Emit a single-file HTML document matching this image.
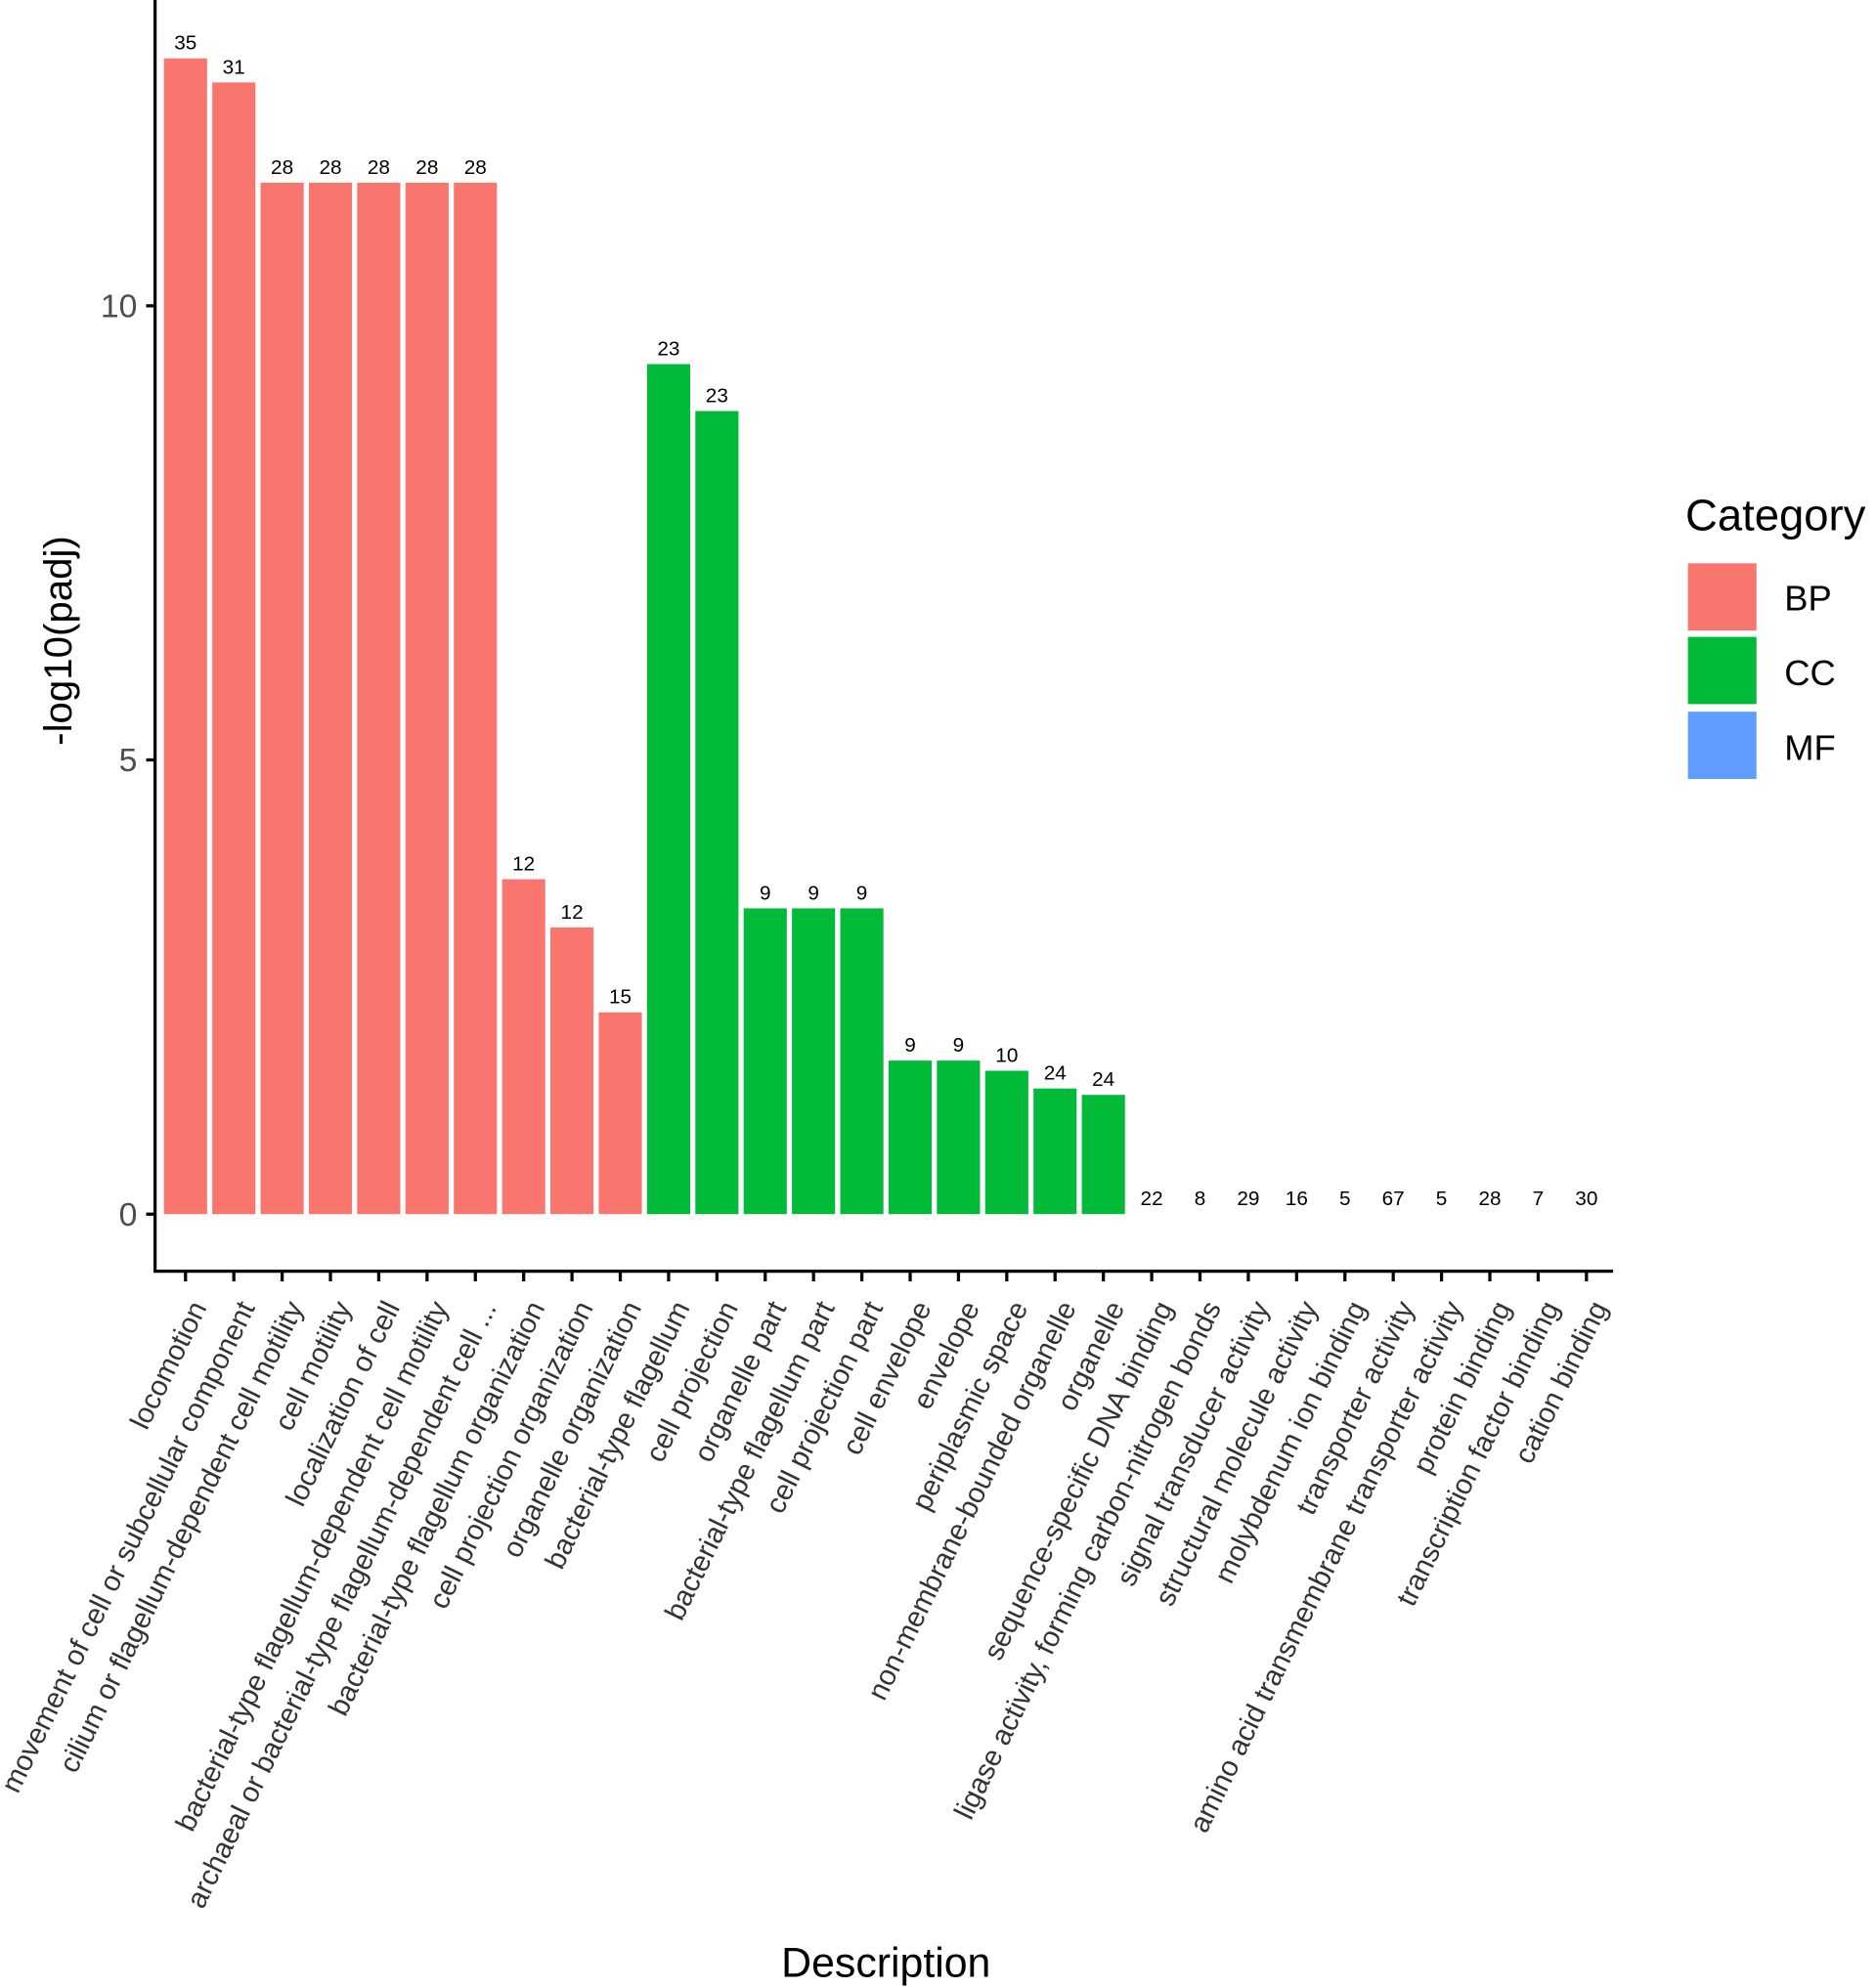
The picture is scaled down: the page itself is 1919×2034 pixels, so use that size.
<!DOCTYPE html>
<html><head><meta charset="utf-8"><style>html,body{margin:0;padding:0;background:#fff}svg{display:block}</style></head>
<body>
<svg width="1919" height="2034" viewBox="0 0 1478 1567" xmlns="http://www.w3.org/2000/svg" font-family="Liberation Sans, sans-serif">
<rect width="1478" height="1567" fill="#fff"/>
<g fill="#F8766D">
<rect x="129" y="46" width="34" height="911"/>
<rect x="167.07" y="65" width="34" height="892"/>
<rect x="205.14" y="144" width="34" height="813"/>
<rect x="243.21" y="144" width="34" height="813"/>
<rect x="281.28" y="144" width="34" height="813"/>
<rect x="319.35" y="144" width="34" height="813"/>
<rect x="357.42" y="144" width="34" height="813"/>
<rect x="395.49" y="693" width="34" height="264"/>
<rect x="433.56" y="731" width="34" height="226"/>
<rect x="471.63" y="798" width="34" height="159"/>
</g>
<g fill="#00BA38">
<rect x="509.7" y="287" width="34" height="670"/>
<rect x="547.77" y="324" width="34" height="633"/>
<rect x="585.84" y="716" width="34" height="241"/>
<rect x="623.91" y="716" width="34" height="241"/>
<rect x="661.98" y="716" width="34" height="241"/>
<rect x="700.05" y="836" width="34" height="121"/>
<rect x="738.12" y="836" width="34" height="121"/>
<rect x="776.19" y="844" width="34" height="113"/>
<rect x="814.26" y="858" width="34" height="99"/>
<rect x="852.33" y="863" width="34" height="94"/>
</g>
<g font-size="16" text-anchor="middle" fill="#000">
<text x="146" y="39">35</text><text x="184.07" y="58">31</text><text x="222.14" y="137">28</text><text x="260.21" y="137">28</text><text x="298.28" y="137">28</text><text x="336.35" y="137">28</text><text x="374.42" y="137">28</text><text x="412.49" y="686">12</text><text x="450.56" y="724">12</text><text x="488.63" y="791">15</text><text x="526.7" y="280">23</text><text x="564.77" y="317">23</text><text x="602.84" y="709">9</text><text x="640.91" y="709">9</text><text x="678.98" y="709">9</text><text x="717.05" y="829">9</text><text x="755.12" y="829">9</text><text x="793.19" y="837">10</text><text x="831.26" y="851">24</text><text x="869.33" y="856">24</text>
<text x="907.4" y="950">22</text><text x="945.47" y="950">8</text><text x="983.54" y="950">29</text><text x="1021.61" y="950">16</text><text x="1059.68" y="950">5</text><text x="1097.75" y="950">67</text><text x="1135.82" y="950">5</text><text x="1173.89" y="950">28</text><text x="1211.96" y="950">7</text><text x="1250.03" y="950">30</text>
</g>
<g stroke="#000" stroke-width="2.5" fill="none">
<path d="M122 0 V1002 H1271"/>
<path d="M115 241 H122 M115 599 H122 M115 957 H122"/>
<path d="M146 1002v8M184.07 1002v8M222.14 1002v8M260.21 1002v8M298.28 1002v8M336.35 1002v8M374.42 1002v8M412.49 1002v8M450.56 1002v8M488.63 1002v8M526.7 1002v8M564.77 1002v8M602.84 1002v8M640.91 1002v8M678.98 1002v8M717.05 1002v8M755.12 1002v8M793.19 1002v8M831.26 1002v8M869.33 1002v8M907.4 1002v8M945.47 1002v8M983.54 1002v8M1021.61 1002v8M1059.68 1002v8M1097.75 1002v8M1135.82 1002v8M1173.89 1002v8M1211.96 1002v8M1250.03 1002v8"/>
</g>
<g font-size="26" fill="#4d4d4d" text-anchor="end">
<text x="108" y="250">10</text><text x="108" y="608">5</text><text x="108" y="966">0</text>
</g>
<text transform="translate(56,505) rotate(-90)" font-size="31" text-anchor="middle" fill="#000">-log10(padj)</text>
<text x="698" y="1558" font-size="33" text-anchor="middle" fill="#000">Description</text>
<g font-size="22.5" fill="#333" text-anchor="end">
<text transform="translate(156,1027) rotate(-64)" dy="0.35em">locomotion</text>
<text transform="translate(194.07,1027) rotate(-64)" dy="0.35em">movement of cell or subcellular component</text>
<text transform="translate(232.14,1027) rotate(-64)" dy="0.35em">cilium or flagellum-dependent cell motility</text>
<text transform="translate(270.21,1027) rotate(-64)" dy="0.35em">cell motility</text>
<text transform="translate(308.28,1027) rotate(-64)" dy="0.35em">localization of cell</text>
<text transform="translate(346.35,1027) rotate(-64)" dy="0.35em">bacterial-type flagellum-dependent cell motility</text>
<text transform="translate(384.42,1027) rotate(-64)" dy="0.35em">archaeal or bacterial-type flagellum-dependent cell ...</text>
<text transform="translate(422.49,1027) rotate(-64)" dy="0.35em">bacterial-type flagellum organization</text>
<text transform="translate(460.56,1027) rotate(-64)" dy="0.35em">cell projection organization</text>
<text transform="translate(498.63,1027) rotate(-64)" dy="0.35em">organelle organization</text>
<text transform="translate(536.7,1027) rotate(-64)" dy="0.35em">bacterial-type flagellum</text>
<text transform="translate(574.77,1027) rotate(-64)" dy="0.35em">cell projection</text>
<text transform="translate(612.84,1027) rotate(-64)" dy="0.35em">organelle part</text>
<text transform="translate(650.91,1027) rotate(-64)" dy="0.35em">bacterial-type flagellum part</text>
<text transform="translate(688.98,1027) rotate(-64)" dy="0.35em">cell projection part</text>
<text transform="translate(727.05,1027) rotate(-64)" dy="0.35em">cell envelope</text>
<text transform="translate(765.12,1027) rotate(-64)" dy="0.35em">envelope</text>
<text transform="translate(803.19,1027) rotate(-64)" dy="0.35em">periplasmic space</text>
<text transform="translate(841.26,1027) rotate(-64)" dy="0.35em">non-membrane-bounded organelle</text>
<text transform="translate(879.33,1027) rotate(-64)" dy="0.35em">organelle</text>
<text transform="translate(917.4,1027) rotate(-64)" dy="0.35em">sequence-specific DNA binding</text>
<text transform="translate(955.47,1027) rotate(-64)" dy="0.35em">ligase activity, forming carbon-nitrogen bonds</text>
<text transform="translate(993.54,1027) rotate(-64)" dy="0.35em">signal transducer activity</text>
<text transform="translate(1031.61,1027) rotate(-64)" dy="0.35em">structural molecule activity</text>
<text transform="translate(1069.68,1027) rotate(-64)" dy="0.35em">molybdenum ion binding</text>
<text transform="translate(1107.75,1027) rotate(-64)" dy="0.35em">transporter activity</text>
<text transform="translate(1145.82,1027) rotate(-64)" dy="0.35em">amino acid transmembrane transporter activity</text>
<text transform="translate(1183.89,1027) rotate(-64)" dy="0.35em">protein binding</text>
<text transform="translate(1221.96,1027) rotate(-64)" dy="0.35em">transcription factor binding</text>
<text transform="translate(1260.03,1027) rotate(-64)" dy="0.35em">cation binding</text>
</g>
<text x="1328" y="418" font-size="35" fill="#000">Category</text>
<rect x="1330" y="444" width="54" height="53" fill="#F8766D"/>
<rect x="1330" y="502" width="54" height="53" fill="#00BA38"/>
<rect x="1330" y="561" width="54" height="53" fill="#619CFF"/>
<g font-size="28" fill="#000">
<text x="1406" y="481">BP</text><text x="1406" y="540">CC</text><text x="1406" y="599">MF</text>
</g>
</svg>
</body></html>
